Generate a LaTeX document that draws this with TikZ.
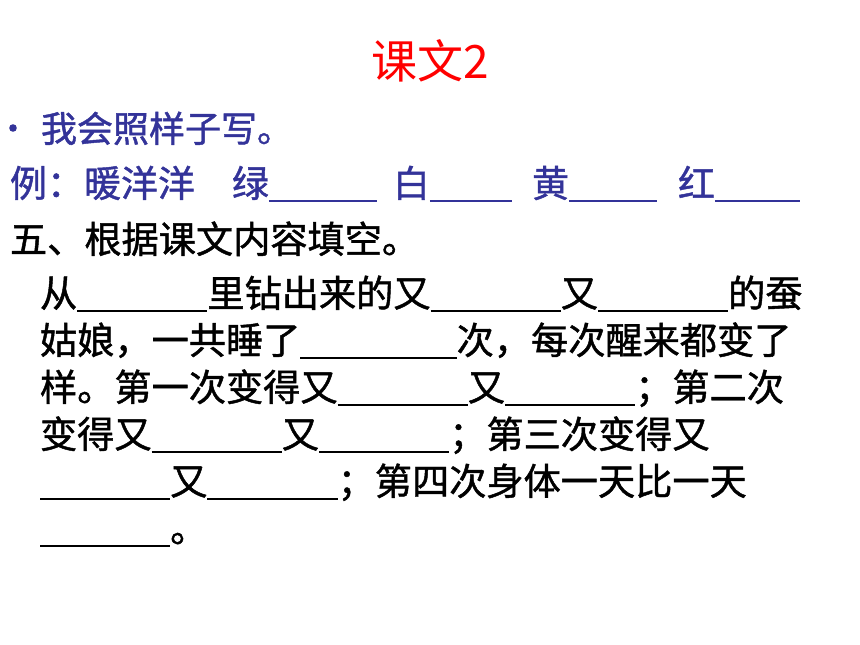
\documentclass[tikz,border=0pt]{standalone}
\usepackage{fontspec}
\setmainfont{Noto Sans CJK SC}
\newfontfamily\heavycjk{Noto Sans CJK SC}[FakeBold=1.2]
\usepackage{xcolor}
\usepackage{tikz}
\usetikzlibrary{positioning}

\definecolor{slideblue}{RGB}{51,51,153}
\definecolor{slidered}{RGB}{255,0,0}
% blank to fill in
\newcommand{\blankline}[1]{\rule[-5pt]{#1}{1.8pt}}

\begin{document}
\begin{tikzpicture}[
			x=1pt, y=-1pt,
			every node/.style={inner sep=0pt, outer sep=0pt, anchor=base west},
			titletext/.style={font=\fontsize{46}{52}\selectfont, text=slidered, anchor=base},
			tasktext/.style={font=\heavycjk\fontsize{37}{44}\selectfont, text=slideblue},
			bodytext/.style={font=\heavycjk\fontsize{37.2}{44}\selectfont, text=black}
			]
			% Page
			\useasboundingbox (0,0) rectangle (860,645);
			% Title
			\node[titletext] (title) at (430,78) {课文2};
			% Task with bullet
			\fill[slideblue] (13,128) circle (3.8);
			\node[tasktext, font=\heavycjk\fontsize{36}{44}\selectfont] (task) at (41,142) {我会照样子写。};
			\node[tasktext] (sample) at (10,197) {例：暖洋洋\hspace{37pt}绿\blankline{108pt}\hspace{16pt}白\blankline{82pt}\hspace{20pt}黄\blankline{88pt}\hspace{21pt}红\blankline{85pt}};
			% Part five
			\node[bodytext] (five) at (10,253) {五、根据课文内容填空。};
			% The text with blanks
			\def\bx{40}
			\node[bodytext] (lineA) at (\bx,307) {从\blankline{3.5em}里钻出来的又\blankline{3.5em}又\blankline{3.5em}的蚕};
			\node[bodytext] (lineB) at (\bx,354) {姑娘，一共睡了\blankline{4.2em}次，每次醒来都变了};
			\node[bodytext] (lineC) at (\bx,401) {样。第一次变得又\blankline{3.5em}又\blankline{3.5em}；第二次};
			\node[bodytext] (lineD) at (\bx,448) {变得又\blankline{3.5em}又\blankline{3.5em}；第三次变得又};
			\node[bodytext] (lineE) at (\bx,495) {\blankline{3.5em}又\blankline{3.5em}；第四次身体一天比一天};
			\node[bodytext] (lineF) at (\bx,542) {\blankline{3.5em}。};
		\end{tikzpicture}
\end{document}
